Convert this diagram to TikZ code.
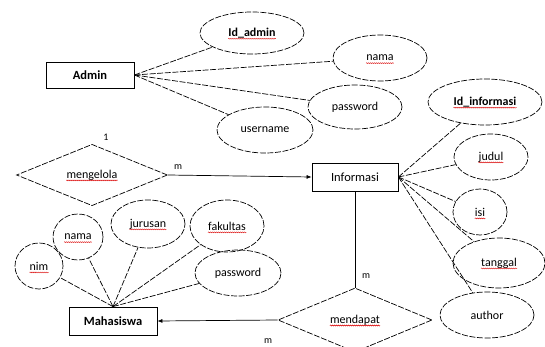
\documentclass[tikz,border=0pt]{standalone}
\usepackage{fontspec}
\setmainfont{Carlito}
\usetikzlibrary{shapes.geometric,arrows.meta,decorations.pathmorphing}
\tikzset{
  dsh/.style={line width=0.7pt, dash pattern=on 6pt off 1.6pt},
  attrib/.style={ellipse, draw, dsh, inner sep=0pt},
  lbl/.style={inner sep=0pt, font=\fontsize{12}{14}\selectfont},
  entity/.style={draw, line width=0.8pt, inner sep=0pt, font=\fontsize{12.5}{14}\selectfont},
  rel/.style={diamond, draw, dsh, inner sep=0pt, font=\fontsize{12}{14}\selectfont},
  conn/.style={dsh},
  wavy/.style={red!85!black, line width=0.4pt, decorate, decoration={snake, amplitude=0.5pt, segment length=2pt}},
  arr/.style={line width=0.7pt, -{Latex[length=5pt,width=4pt]}},
  card/.style={inner sep=0pt, font=\fontsize{10}{12}\selectfont},
}
\newcommand\attrnode[6]{%
  \node[attrib, minimum width={2*#4}, minimum height={2*#5}] (#1) at (#2,#3) {};
  \node[lbl] (#1-t) at (#1.center) {#6};
}
\newcommand\squig[1]{\draw[wavy] ([yshift=-2.3pt]#1.base west) -- ([yshift=-2.3pt]#1.base east);}
\begin{document}
\begin{tikzpicture}[x=1pt,y=-1pt]
\useasboundingbox (0,0) rectangle (545,347);
\clip (0,0) rectangle (545,347);
% entities
\node[entity, minimum width=88pt, minimum height=26pt, font=\bfseries\fontsize{12.5}{14}\selectfont] (admin) at (90,75) {Admin};
\node[entity, minimum width=86pt, minimum height=28pt] (info) at (355,177) {Informasi};
\node[entity, minimum width=88pt, minimum height=28pt, font=\bfseries\fontsize{12.5}{14}\selectfont] (mhs) at (113,321) {Mahasiswa};
% relationships
\node[rel, minimum width=151pt, minimum height=60pt] (kelola) at (92,175) {mengelola};
\node[rel, minimum width=154pt, minimum height=64pt] (dapat) at (355,320) {mendapat};
% admin attributes
\attrnode{idadmin}{252}{33}{52}{21}{\bfseries Id\_admin}
\attrnode{namaA}{380}{58}{47}{23}{nama}
\attrnode{passA}{355}{107}{47}{22}{password}
\attrnode{user}{265}{130}{48}{23}{username}
% informasi attributes
\attrnode{idinfo}{485}{102}{57}{23}{\bfseries Id\_informasi}
\attrnode{judul}{491}{157}{37}{23}{judul}
\attrnode{isi}{480}{212}{27}{23}{isi}
\attrnode{tgl}{499}{263}{46}{25}{tanggal}
\attrnode{author}{487}{315}{47}{23}{author}
% mahasiswa attributes
\attrnode{nim}{39}{266}{24}{23}{nim}
\attrnode{namaM}{78}{237}{25}{23}{nama}
\attrnode{jurusan}{148}{224}{37}{24}{jurusan}
\attrnode{fakultas}{227}{226}{37}{26}{fakultas}
\attrnode{passM}{238}{273}{43}{23}{password}
% spell-check squiggles
\squig{idadmin-t}\squig{namaA-t}\squig{idinfo-t}\squig{judul-t}\squig{isi-t}\squig{tgl-t}
\squig{nim-t}\squig{namaM-t}\squig{jurusan-t}\squig{fakultas-t}
\node[lbl, text opacity=0] (kelola-t) at (kelola.center) {mengelola};
\node[lbl, text opacity=0] (dapat-t) at (dapat.center) {mendapat};
\squig{kelola-t}\squig{dapat-t}
% connectors
\foreach \a in {idadmin,namaA,passA,user} \draw[conn] (admin.east) -- (\a);
\foreach \a in {idinfo,judul,isi,tgl,author} \draw[conn] (info.east) -- (\a);
\foreach \a in {nim,namaM,jurusan,fakultas,passM} \draw[conn] (mhs.north) -- (\a);
\draw[arr] (kelola.east) -- (info.west);
\draw[arr] (dapat.west) -- (mhs.east);
\draw[line width=0.7pt] (info.south) -- (dapat.north);
% cardinalities
\node[card] (c1) at (106,137) {1};
\node[card] (c2) at (178,167) {m};
\node[card] (c3) at (366,276) {m};
\node[card] (c4) at (268,341) {m};
\end{tikzpicture}
\end{document}
